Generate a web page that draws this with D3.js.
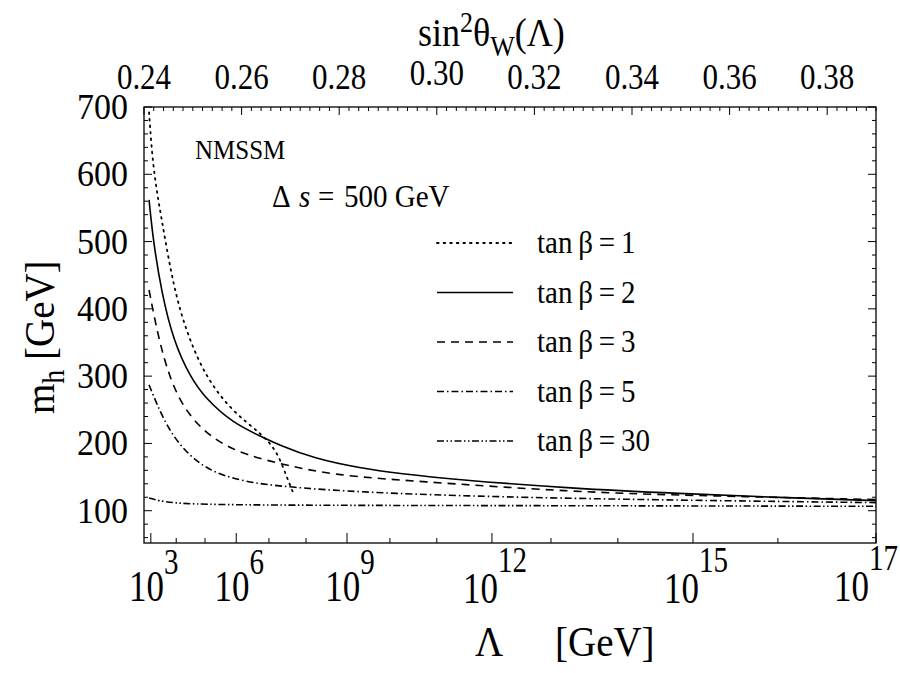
<!DOCTYPE html>
<html>
<head>
<meta charset="utf-8">
<script src="https://cdn.jsdelivr.net/npm/d3@7"></script>
<style>
  body { margin: 0; background: #fff; }
  svg { font-family: "Liberation Serif", "DejaVu Serif", serif; }
</style>
</head>
<body>
<div id="chart"></div>
<script>
// Bottom axis: log10(Lambda) ticks and the sin^2(theta_W) they sit at
const lambdaExp = [3, 4, 5, 6, 7, 8, 9, 10, 11, 12, 13, 14, 15, 16, 17];
const sinAtExp = [0.2414, 0.2466, 0.2525, 0.2589, 0.2656, 0.2732, 0.2816, 0.2904,
                  0.3000, 0.3113, 0.3234, 0.3371, 0.3525, 0.3699, 0.3900];
const labeledExp = [3, 6, 9, 12, 15, 17];

// Top axis ticks (sin^2 theta_W)
const topTicks = [0.24, 0.26, 0.28, 0.30, 0.32, 0.34, 0.36, 0.38];
const yTicks = [100, 200, 300, 400, 500, 600, 700];

// Curves: log10(Lambda / GeV) and m_h in GeV
const logL1 = [2.93, 3.09, 3.43, 3.89, 4.37, 5.05, 5.91, 6.73, 7.21, 7.48, 7.66];
const mh1   = [692, 606, 532, 433, 363, 296, 246, 216, 190, 150, 126];

const logL2 = [2.93, 3.09, 3.43, 3.89, 4.48, 5.05, 5.91, 6.73, 7.30, 8.18, 9.32, 10.23, 11.29, 13.33, 14.83, 16.02, 17];
const mh2   = [562, 502, 423, 353, 299, 265, 230, 211, 197, 178, 163, 155, 146.5, 133, 125.5, 119.6, 115];

const logL3 = [2.93, 3.29, 3.76, 4.37, 5.27, 6.32, 7.48, 8.66, 10.49, 13.33, 14.83, 17];
const mh3   = [428, 358, 294, 244, 205, 182, 167.6, 153, 144, 128, 123, 116.5];

const logL5 = [2.93, 3.49, 4.14, 5.05, 6.22, 7.48, 9.77, 13.33, 17];
const mh5   = [287, 235, 195, 160, 143, 135, 125.5, 117.5, 112];

const logL30 = [2.93, 3.63, 5.9, 13.33, 17];
const mh30   = [119, 111, 108, 107.5, 106.5];

const tanBeta = ['1', '2', '3', '5', '30'];
const dashes = ['1.6,5', null, '8,6', '7,3,1.5,3', '7,2.5,1.5,2.5,1.5,2.5'];

const W = 900, H = 673;
const frame = { left: 144, right: 876, top: 107, bottom: 543 };

const svg = d3.select('#chart').append('svg')
    .attr('width', W)
    .attr('height', H);

const x = d3.scaleLinear().domain([0.24, 0.39]).range([frame.left, frame.right]);
const y = d3.scaleLinear().domain([52, 700]).range([frame.bottom, frame.top]);
// log10(Lambda) -> sin^2 theta_W, piecewise through the tick table
const lamToSin = d3.scaleLinear().domain(lambdaExp).range(sinAtExp);

// the original Times glyphs are a bit taller than Liberation's
const place = (px, py, sy) => `translate(${px},${py}) scale(1,${sy})`;

// Frame
svg.append('rect')
    .attr('x', frame.left).attr('y', frame.top)
    .attr('width', frame.right - frame.left)
    .attr('height', frame.bottom - frame.top)
    .attr('fill', 'none').attr('stroke', '#000').attr('stroke-width', 1.3);

const ticks = svg.append('g').attr('stroke', '#000').attr('stroke-width', 1);

// Top ticks (inward)
d3.range(0, 76).map(i => 0.24 + i * 0.002).forEach((v, i) => {
    const len = i % 10 === 0 ? 8 : 4;
    ticks.append('line')
        .attr('x1', x(v)).attr('x2', x(v))
        .attr('y1', frame.top).attr('y2', frame.top + len);
});

svg.append('g').selectAll('text')
    .data(topTicks)
    .enter().append('text')
    .attr('transform', d => place(x(d), d === 0.30 ? 85 : 89, 1.15))
    .attr('text-anchor', 'middle')
    .style('font-size', '31px')
    .text(d => d.toFixed(2));

// Left / right ticks
d3.range(60, 701, 20).forEach(v => {
    const len = v % 100 === 0 ? 8 : 4;
    ticks.append('line')
        .attr('x1', frame.left).attr('x2', frame.left + len)
        .attr('y1', y(v)).attr('y2', y(v));
    ticks.append('line')
        .attr('x1', frame.right).attr('x2', frame.right - len)
        .attr('y1', y(v)).attr('y2', y(v));
});

svg.append('g').selectAll('text')
    .data(yTicks)
    .enter().append('text')
    .attr('transform', d => place(128, y(d) + 12, 1.08))
    .attr('text-anchor', 'end')
    .style('font-size', '34px')
    .text(d => d);

// Bottom ticks (inward)
lambdaExp.forEach(e => {
    const len = labeledExp.includes(e) ? 10 : 5;
    ticks.append('line')
        .attr('x1', x(lamToSin(e))).attr('x2', x(lamToSin(e)))
        .attr('y1', frame.bottom).attr('y2', frame.bottom - len);
});

const bl = svg.append('g').selectAll('text')
    .data(labeledExp)
    .enter().append('text')
    .attr('transform', d => place(Math.min(x(lamToSin(d)) + 3, 866), d >= 10 && d < 17 ? 603 : 601, 1.25))
    .attr('text-anchor', 'middle')
    .style('font-size', '35px');
bl.append('tspan').text('10');
bl.append('tspan')
    .attr('dy', d => d >= 10 ? -25 : -22)
    .style('font-size', '29px')
    .text(d => d);

// Curves
svg.append('clipPath').attr('id', 'plotclip')
    .append('rect')
    .attr('x', frame.left).attr('y', frame.top)
    .attr('width', frame.right - frame.left)
    .attr('height', frame.bottom - frame.top);

const series = [
    { l: logL1, m: mh1 },
    { l: logL2, m: mh2 },
    { l: logL3, m: mh3 },
    { l: logL5, m: mh5 },
    { l: logL30, m: mh30 }
];

const line = d3.line()
    .x(d => x(lamToSin(d[0])))
    .y(d => y(d[1]))
    .curve(d3.curveBasis);

const curves = svg.append('g').attr('clip-path', 'url(#plotclip)');
series.forEach((s, i) => {
    curves.append('path')
        .datum(s.l.map((v, j) => [v, s.m[j]]))
        .attr('d', line)
        .attr('fill', 'none')
        .attr('stroke', '#000')
        .attr('stroke-width', i === 0 ? 1.8 : 1.6)
        .attr('stroke-linecap', i === 0 ? 'round' : 'butt')
        .attr('stroke-dasharray', dashes[i]);
});

// Legend
const legend = svg.append('g');
tanBeta.forEach((t, i) => {
    const ly = 243 + i * 49.5;
    legend.append('line')
        .attr('x1', 437).attr('x2', 513)
        .attr('y1', ly).attr('y2', ly)
        .attr('stroke', '#000')
        .attr('stroke-width', i === 0 ? 1.8 : 1.6)
        .attr('stroke-linecap', i === 0 ? 'round' : 'butt')
        .attr('stroke-dasharray', dashes[i]);
    legend.append('text')
        .attr('transform', place(537, ly + 10, 1.1))
        .style('font-size', '29px')
        .text('tan\u2009\u03B2\u2009=\u2009' + t);
});

// Annotations
svg.append('text')
    .attr('transform', place(195, 159, 1.1))
    .style('font-size', '25px')
    .text('NMSSM');

const ds = svg.append('text')
    .attr('transform', place(272, 207, 1.1))
    .style('font-size', '29px');
ds.append('tspan').text('\u0394');
ds.append('tspan').attr('x', 27).style('font-style', 'italic').text('s');
ds.append('tspan').attr('x', 46).text('=');
ds.append('tspan').attr('x', 72).text('500 GeV');

// Top title
const tt = svg.append('text')
    .attr('transform', place(418, 46, 1.1))
    .style('font-size', '36px');
tt.append('tspan').text('sin');
tt.append('tspan').attr('dy', -13).style('font-size', '26px').text('2');
tt.append('tspan').attr('dy', 13).text('\u03B8');
tt.append('tspan').attr('dy', 9).style('font-size', '26px').text('W');
tt.append('tspan').attr('dy', -9).text('(\u039B)');

// Y title
const yt = svg.append('text')
    .attr('transform', 'translate(54,414) rotate(-90) scale(1,1.1)')
    .style('font-size', '39px');
yt.append('tspan').text('m');
yt.append('tspan').attr('dy', 9).style('font-size', '28px').text('h');
yt.append('tspan').attr('x', 54).attr('dy', -9).text('[GeV]');

// X title
const xt = svg.append('text')
    .attr('transform', place(475, 656, 1.1))
    .style('font-size', '39px');
xt.append('tspan').text('\u039B');
xt.append('tspan').attr('x', 80).text('[GeV]');
</script>
</body>
</html>
